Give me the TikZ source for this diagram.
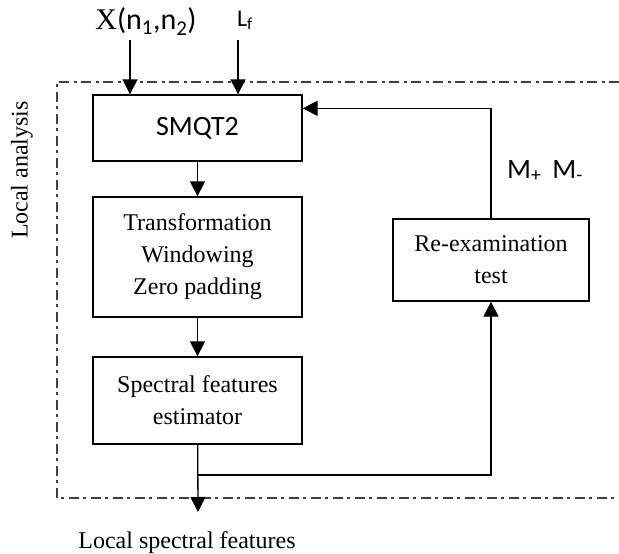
\documentclass[tikz,border=0pt]{standalone}
\usepackage{fontspec}
\setmainfont{Liberation Serif}
\newfontfamily\calfont{Carlito}
\usetikzlibrary{arrows.meta,calc}
\begin{document}
\begin{tikzpicture}[x=1pt,y=-1pt,
  box/.style={draw,line width=1.3pt,minimum width=209pt,inner sep=0pt,align=center,
    font=\fontsize{24}{32}\selectfont},
  arr/.style={line width=1.3pt,-{Triangle[width=15pt,length=15pt]}},
  frame/.style={line width=1.2pt,black!75,dash pattern=on 10pt off 4pt on 3pt off 5pt},
  lbl/.style={inner sep=0pt,font=\fontsize{24}{28}\selectfont}]
\useasboundingbox (0,0) rectangle (619,554);
\node[box,minimum height=66pt,font=\calfont\fontsize{28}{30}\selectfont] (smqt) at (197.5,128) {SMQT2};
\node[box,minimum height=120pt] (trans) at (197.5,257) {Transformation\\Windowing\\Zero padding};
\node[box,minimum height=87pt] (spec) at (197.5,400.5) {Spectral features\\estimator};
\node[box,minimum width=196pt,minimum height=82pt] (reex) at (491,260) {Re-examination\\test};
\node[lbl,anchor=base] (xin) at (146,30) {{\fontsize{30}{30}\selectfont X}{\calfont\fontsize{30}{30}\selectfont (n\textsubscript{1},n\textsubscript{2})}};
\node[lbl,anchor=base] (lf) at (245,26) {\calfont\fontsize{24}{26}\selectfont L\textsubscript{f}};
\node[lbl,anchor=base] (mpm) at (545,178) {\calfont\fontsize{28}{30}\selectfont M\textsubscript{+}\, M\textsubscript{-}};
\node[lbl,rotate=90] (la) at (22,170) {Local analysis};
\node[lbl,anchor=base] (lsf) at (187,548) {Local spectral features};
\coordinate (xs) at (130,40);
\coordinate (ls) at (238,40);
\coordinate (outend) at (198,512);
\coordinate (br) at (198,475);
\coordinate (fbin) at ($(smqt.north east)+(0,14)$);
\draw[frame] (619,82) -- (57,82) -- (57,498) -- (619,498);
\draw[arr] (xs) -- (xs |- smqt.north);
\draw[arr] (ls) -- (ls |- smqt.north);
\draw[arr] (smqt) -- (trans);
\draw[arr] (trans) -- (spec);
\draw[arr] (spec) -- (outend);
\draw[arr] (br) -| (reex.south);
\draw[arr] (reex.north) |- (fbin);
\end{tikzpicture}
\end{document}
